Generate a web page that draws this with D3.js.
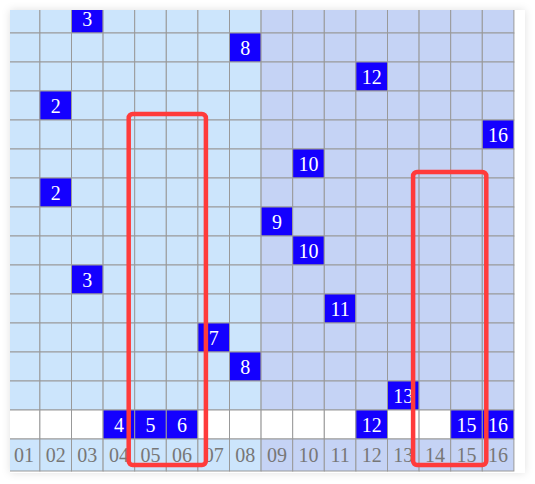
<!DOCTYPE html>
<html>
<head>
<meta charset="utf-8">
<script src="https://cdn.jsdelivr.net/npm/d3@7/dist/d3.min.js"></script>
<style>
  html, body { margin: 0; padding: 0; background: #ffffff; }
  svg { display: block; }
</style>
</head>
<body>
<svg id="chart" width="535" height="484"></svg>
<script>
// ---- data ----
const columns = ["01","02","03","04","05","06","07","08","09","10","11","12","13","14","15","16"];
const drawnNumbers = [3, 8, 12, 2, 16, 10, 2, 9, 10, 3, 11, 7, 8, 13];   // one hit per row, top to bottom
const pickedNumbers = [4, 5, 6, 12, 15, 16];                            // white row above labels
const boxes = [
  { from: "05", to: "06", startRow: 4 },
  { from: "14", to: "15", startRow: 6 }
];
const boxRightPad = [8, 4];

// ---- layout ----
const svg = d3.select("#chart");
const card = { x: 10, y: 10, w: 515, h: 463 };
const colLeft = 8.3, colStep = 31.6;
const rowTop = 4, rowStep = 29, labelRowH = 32;
const nRows = drawnNumbers.length + 1; // + picked row

const x = d3.scaleBand().domain(columns).range([colLeft, colLeft + colStep * columns.length]).padding(0);
const y = d3.scaleBand().domain(d3.range(nRows)).range([rowTop, rowTop + rowStep * nRows]).padding(0);
const labelY = rowTop + rowStep * nRows;

const bgLeft = "#cce5fc", bgRight = "#c5d3f5";
const colBg = c => (+c <= 8 ? bgLeft : bgRight);
const hitColor = "#1400ff";
const gridColor = "#999999";
const fontFam = "'Liberation Serif', 'DejaVu Serif', serif";

const defs = svg.append("defs");
const f = defs.append("filter").attr("id", "shadow").attr("x", "-10%").attr("y", "-10%").attr("width", "120%").attr("height", "120%");
f.append("feDropShadow").attr("dx", 0).attr("dy", 0).attr("stdDeviation", 4).attr("flood-color", "#000").attr("flood-opacity", 0.12);
defs.append("clipPath").attr("id", "cardClip").append("rect")
  .attr("x", card.x).attr("y", card.y).attr("width", card.w).attr("height", card.h);

svg.append("rect").attr("x", card.x).attr("y", card.y).attr("width", card.w).attr("height", card.h)
  .attr("fill", "#ffffff").attr("filter", "url(#shadow)");

const g = svg.append("g").attr("clip-path", "url(#cardClip)");

// build cells
const cells = [];
drawnNumbers.forEach((n, r) => {
  columns.forEach(c => cells.push({ row: r, col: c, hit: +c === n, bg: colBg(c) }));
});
const pr = drawnNumbers.length;
columns.forEach(c => cells.push({ row: pr, col: c, hit: pickedNumbers.includes(+c), bg: "#ffffff" }));

g.selectAll("rect.cell").data(cells).join("rect")
  .attr("class", "cell")
  .attr("x", d => x(d.col)).attr("y", d => y(d.row))
  .attr("width", x.bandwidth()).attr("height", y.bandwidth())
  .attr("fill", d => d.hit ? hitColor : d.bg)
  .attr("stroke", gridColor).attr("stroke-width", 1);

g.selectAll("text.num").data(cells.filter(d => d.hit)).join("text")
  .attr("class", "num")
  .attr("x", d => x(d.col) + x.bandwidth() / 2)
  .attr("y", d => y(d.row) + y.bandwidth() / 2)
  .attr("dy", "0.35em")
  .attr("text-anchor", "middle")
  .attr("fill", "#ffffff")
  .attr("font-family", fontFam).attr("font-size", 20)
  .text(d => +d.col);

// label row
g.selectAll("rect.lab").data(columns).join("rect")
  .attr("class", "lab")
  .attr("x", d => x(d)).attr("y", labelY)
  .attr("width", x.bandwidth()).attr("height", labelRowH)
  .attr("fill", d => colBg(d))
  .attr("stroke", gridColor).attr("stroke-width", 1);

g.selectAll("text.lab").data(columns).join("text")
  .attr("class", "lab")
  .attr("x", d => x(d) + x.bandwidth() / 2)
  .attr("y", labelY + labelRowH / 2)
  .attr("dy", "0.35em")
  .attr("text-anchor", "middle")
  .attr("fill", "#777777")
  .attr("font-family", fontFam).attr("font-size", 20)
  .text(d => d);

// red boxes
svg.selectAll("rect.box").data(boxes).join("rect")
  .attr("class", "box")
  .attr("x", d => x(d.from) - 6)
  .attr("y", d => y(d.startRow) - 6)
  .attr("width", (d, i) => x(d.to) + x.bandwidth() + boxRightPad[i] - (x(d.from) - 6))
  .attr("height", d => labelY + labelRowH - 6 - (y(d.startRow) - 6))
  .attr("rx", 4).attr("ry", 4)
  .attr("fill", "none")
  .attr("stroke", "#ff3b3b").attr("stroke-width", 4.5);
</script>
</body>
</html>
